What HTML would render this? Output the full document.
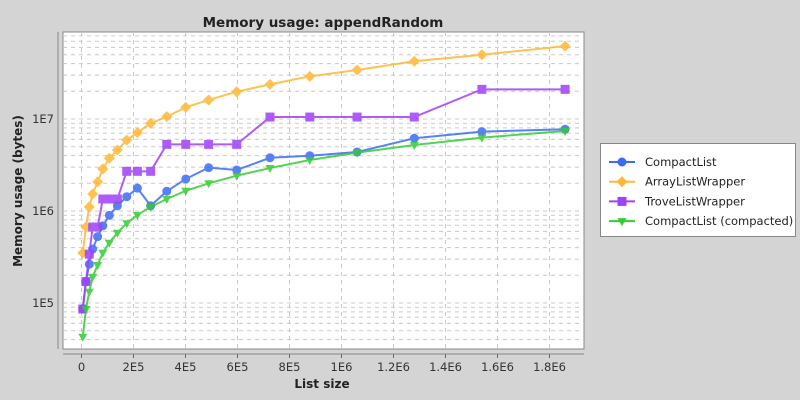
<!DOCTYPE html>
<html><head><meta charset="utf-8"><style>
html,body{margin:0;padding:0;background:#d4d4d4;}
svg{display:block;font-family:"DejaVu Sans","Liberation Sans",sans-serif;}
</style></head><body>
<svg id="chart" width="800" height="400" xmlns="http://www.w3.org/2000/svg">
<rect width="800" height="400" fill="#d4d4d4"/>
<text x="323" y="27" text-anchor="middle" font-weight="bold" font-size="13.5" fill="#222">Memory usage: appendRandom</text>
<rect x="63" y="32" width="521" height="317" fill="#fff" stroke="#888"/>
<g id="grid"></g>
<g id="axes"></g>
<g id="series"></g>
<text x="322" y="388" text-anchor="middle" font-weight="bold" font-size="12" fill="#222">List size</text>
<text transform="translate(22,191) rotate(-90)" text-anchor="middle" font-weight="bold" font-size="12" fill="#222">Memory usage (bytes)</text>
<g>
<rect x="600.5" y="143.5" width="195" height="93" fill="#fff" stroke="#888"/>
<g id="legend"></g>
</g>
</svg>
<script>
const xValues=[5e3,1.7e4,3e4,4.3e4,6.2e4,8.2e4,1.07e5,1.38e5,1.74e5,2.15e5,2.66e5,3.28e5,4.01e5,4.89e5,5.97e5,7.25e5,8.78e5,1.06e6,1.28e6,1.54e6,1.86e6];
const compactList=[8.6e4,1.71e5,2.64e5,3.86e5,5.26e5,6.9e5,8.97e5,1.14e6,1.43e6,1.77e6,1.14e6,1.64e6,2.23e6,2.96e6,2.79e6,3.79e6,3.99e6,4.38e6,6.17e6,7.28e6,7.73e6];
const arrayListWrapper=[3.5e5,6.7e5,1.11e6,1.53e6,2.07e6,2.86e6,3.74e6,4.6e6,5.9e6,7.1e6,9.0e6,1.06e7,1.34e7,1.61e7,1.98e7,2.38e7,2.91e7,3.41e7,4.24e7,5.0e7,6.2e7];
const troveListWrapper=[8.6e4,1.71e5,3.4e5,6.7e5,6.7e5,1.35e6,1.35e6,1.35e6,2.7e6,2.7e6,2.7e6,5.3e6,5.3e6,5.3e6,5.3e6,1.05e7,1.05e7,1.05e7,1.05e7,2.1e7,2.1e7];
const compactListCompacted=[4.3e4,8.6e4,1.33e5,1.93e5,2.59e5,3.52e5,4.52e5,5.81e5,7.35e5,9.06e5,1.11e6,1.35e6,1.66e6,2.0e6,2.42e6,2.93e6,3.58e6,4.31e6,5.21e6,6.27e6,7.41e6];
const xTicks=[0,2e5,4e5,6e5,8e5,1e6,1.2e6,1.4e6,1.6e6,1.8e6];
const xTickLabels=["0","2E5","4E5","6E5","8E5","1E6","1.2E6","1.4E6","1.6E6","1.8E6"];
const yTicks=[1e5,1e6,1e7];
const yTickLabels=["1E5","1E6","1E7"];
const seriesNames=["CompactList","ArrayListWrapper","TroveListWrapper","CompactList (compacted)"];

const NS="http://www.w3.org/2000/svg";
const X0=63,X1=584,Y0=32,Y1=349;
function xs(v){return 81.5+v/1e5*26;}
function ys(v){return 119-(Math.log10(v)-7)*92;}
function mk(tag,attrs,parent){const e=document.createElementNS(NS,tag);for(const k in attrs)e.setAttribute(k,attrs[k]);parent.appendChild(e);return e;}
const grid=document.getElementById('grid'),axes=document.getElementById('axes'),ser=document.getElementById('series'),leg=document.getElementById('legend');
for(let d=4;d<=7;d++){for(let m=1;m<=9;m++){const v=m*Math.pow(10,d);const y=ys(v);if(y<Y0+1||y>Y1-1)continue;
 const l=mk('line',{x1:X0,x2:X1,y1:y,y2:y,stroke:'#c8c8c8','stroke-dasharray':'4,4','stroke-width':1},grid);
 
 }}
xTicks.forEach((v,i)=>{const x=xs(v);
 const l=mk('line',{x1:x,x2:x,y1:Y0,y2:Y1,stroke:'#c8c8c8','stroke-dasharray':'4,4'},grid);
 
 
 const t=mk('line',{x1:x,x2:x,y1:Y1+5,y2:Y1+9,stroke:'#666'},axes);
 
 
 const tx=mk('text',{x:x,y:371,'text-anchor':'middle','font-size':11.5,fill:'#333'},axes);tx.textContent=xTickLabels[i];
 
 });
mk('line',{x1:X0,x2:X1,y1:Y1+5,y2:Y1+5,stroke:'#888'},axes);
mk('line',{x1:X0-5,x2:X0-5,y1:Y0,y2:Y1,stroke:'#888'},axes);
yTicks.forEach((v,i)=>{const y=ys(v);
 const tx=mk('text',{x:X0-9,y:y+4,'text-anchor':'end','font-size':11.5,fill:'#333'},axes);tx.textContent=yTickLabels[i];
 
 });
const seriesData=[compactList,arrayListWrapper,troveListWrapper,compactListCompacted];
const colors=['#3b6cf5','#ffb733','#a040f8','#33cc33'];
const shapes=['circle','diamond','square','triangle'];
function marker(shape,x,y,c,p){
 if(shape==='circle')return mk('circle',{cx:x,cy:y,r:4.5,fill:c},p);
 if(shape==='square')return mk('rect',{x:x-4.5,y:y-4.5,width:9,height:9,fill:c},p);
 if(shape==='diamond')return mk('polygon',{points:`${x},${y-5.5} ${x+5.5},${y} ${x},${y+5.5} ${x-5.5},${y}`,fill:c},p);
 return mk('polygon',{points:`${x-4.5},${y-3} ${x+4.5},${y-3} ${x},${y+5}`,fill:c},p);}
seriesData.forEach((arr,s)=>{const g=mk('g',{opacity:0.85},ser);
 
 
 const pts=arr.map((v,i)=>xs(xValues[i])+','+ys(v)).join(' ');
 const pl=mk('polyline',{points:pts,fill:'none',stroke:colors[s],'stroke-width':2},g);
 
 
 arr.forEach((v,i)=>{const m=marker(shapes[s],xs(xValues[i]),ys(v),colors[s],g);
  
  });
 const ly=162+s*19.7;
 const lg=mk('g',{},leg);
 
 
 mk('line',{x1:609,x2:635,y1:ly,y2:ly,stroke:colors[s],'stroke-width':2},lg);
 marker(shapes[s],622,ly,colors[s],lg);
 const t=mk('text',{x:645,y:ly+4,'font-size':11.5,fill:'#222'},lg);t.textContent=seriesNames[s];
});
</script>
</body></html>
